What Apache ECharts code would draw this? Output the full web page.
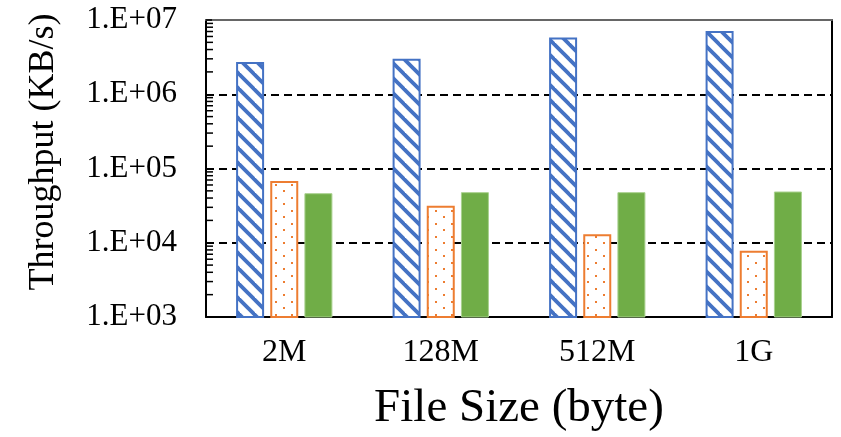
<!DOCTYPE html>
<html>
<head>
<meta charset="utf-8">
<script src="https://cdn.jsdelivr.net/npm/echarts@6/dist/echarts.min.js"></script>
<style>html,body{margin:0;padding:0;background:#fff;}#c{width:841px;height:437px;}</style>
</head>
<body>
<div id="c"></div>
<script>
const categories = ['2M', '128M', '512M', '1G'];
const seriesStriped = [2.72e6, 3.0e6, 5.8e6, 7.1e6];
const seriesDotted = [6.8e4, 3.15e4, 1.3e4, 7.8e3];
const seriesSolid = [4.65e4, 4.8e4, 4.8e4, 4.9e4];
const yMin = 1e3, yMax = 1e7;
const minorMultipliers = [2, 3, 4, 5, 6, 7, 8, 9];
const decades = [1e3, 1e4, 1e5, 1e6];

const minorTickData = [];
decades.forEach(d => minorMultipliers.forEach(m => minorTickData.push([0, d * m])));

function stripePattern() {
  const s = 15, c = document.createElement('canvas');
  c.width = s; c.height = s;
  const g = c.getContext('2d');
  g.fillStyle = '#fff'; g.fillRect(0, 0, s, s);
  g.strokeStyle = '#4472C4'; g.lineWidth = 3.8;
  for (let k = -1; k <= 1; k++) {
    g.beginPath(); g.moveTo(k * s - 2, -2); g.lineTo(k * s + s + 2, s + 2); g.stroke();
  }
  return c;
}
function dotPattern() {
  const c = document.createElement('canvas');
  c.width = 16; c.height = 13;
  const g = c.getContext('2d');
  g.fillStyle = '#fff'; g.fillRect(0, 0, 16, 13);
  g.fillStyle = '#ED7D31';
  g.fillRect(3, 2, 2, 2);
  g.fillRect(11, 8, 2, 2);
  return c;
}

const font = 'Liberation Serif';
const chart = echarts.init(document.getElementById('c'));
chart.setOption({
  backgroundColor: '#fff',
  animation: false,
  grid: { left: 206, right: 9, top: 20, bottom: 118 },
  xAxis: [{
    type: 'category',
    data: categories,
    axisLine: { lineStyle: { color: '#000', width: 2 } },
    axisTick: { show: false },
    axisLabel: { color: '#000', fontFamily: font, fontSize: 32, margin: 20 },
    name: 'File Size (byte)',
    nameLocation: 'middle',
    nameGap: 68,
    nameTextStyle: { color: '#000', fontFamily: font, fontSize: 47 }
  }, {
    type: 'category',
    position: 'top',
    data: categories,
    axisLine: { lineStyle: { color: '#666', width: 2 } },
    axisTick: { show: false },
    axisLabel: { show: false }
  }],
  yAxis: [{
    type: 'log',
    min: yMin,
    max: yMax,
    logBase: 10,
    axisLine: { show: true, lineStyle: { color: '#000', width: 2 } },
    axisTick: { show: true, inside: true, length: 6, lineStyle: { color: '#000', width: 1.5 } },
    axisLabel: {
      color: '#000', fontFamily: font, fontSize: 31, margin: 29,
      formatter: v => '1.E+' + String(Math.round(Math.log10(v))).padStart(2, '0')
    },
    splitLine: { show: true, lineStyle: { color: '#000', width: 2, type: [8, 5] } },
    name: 'Throughput (KB/s)',
    nameLocation: 'middle',
    nameGap: 144,
    nameTextStyle: { color: '#000', fontFamily: font, fontSize: 36, padding: [0, 0, 0, 33] }
  }, {
    type: 'value',
    position: 'right',
    min: 0, max: 1,
    axisLine: { show: true, lineStyle: { color: '#000', width: 2 } },
    axisTick: { show: false },
    axisLabel: { show: false },
    splitLine: { show: false }
  }],
  series: [{
    name: 'Striped',
    type: 'bar',
    data: seriesStriped,
    barWidth: 28,
    barGap: '22%',
    itemStyle: { color: { image: stripePattern(), repeat: 'repeat' }, borderColor: '#4472C4', borderWidth: 2 }
  }, {
    name: 'Dotted',
    type: 'bar',
    data: seriesDotted,
    barWidth: 28,
    barGap: '22%',
    itemStyle: { color: { image: dotPattern(), repeat: 'repeat' }, borderColor: '#ED7D31', borderWidth: 2 }
  }, {
    name: 'Solid',
    type: 'bar',
    data: seriesSolid,
    barWidth: 28,
    barGap: '22%',
    itemStyle: { color: '#70AD47', borderColor: '#A9D18E', borderWidth: 1 }
  }, {
    name: 'minorTicks',
    type: 'custom',
    silent: true,
    z: 5,
    clip: false,
    data: minorTickData,
    encode: { x: 0, y: 1 },
    renderItem: function (params, api) {
      const v = api.value(1);
      const p = api.coord([0, v]);
      const band = api.size([1, v])[0];
      const x = p[0] - band / 2;
      return { type: 'line', shape: { x1: x, y1: p[1], x2: x + 7, y2: p[1] }, style: { stroke: '#000', lineWidth: 1.5 } };
    }
  }]
});
</script>
</body>
</html>
